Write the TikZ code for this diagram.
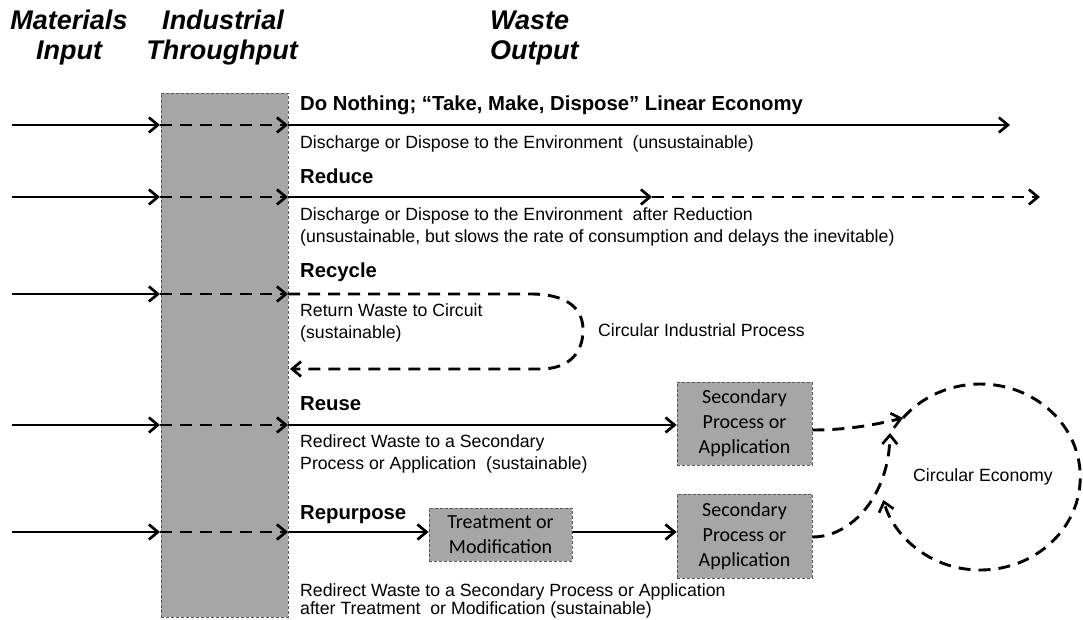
\documentclass[tikz,border=0pt]{standalone}
\usepackage{fontspec}
\setmainfont{Liberation Sans}
\newfontfamily\boxfont{Carlito}
\usetikzlibrary{arrows.meta}
\definecolor{boxgray}{HTML}{A6A6A6}
\definecolor{edgegray}{HTML}{595959}
\begin{document}
\begin{tikzpicture}[x=1pt,y=1pt,
  flow/.style={line width=2.9pt,-{Straight Barb[length=9pt,width=15pt,line width=2.7pt]}},
  dsh/.style={dash pattern=on 12pt off 8pt},
  hdr/.style={font=\fontsize{27}{30}\selectfont\bfseries\itshape, inner sep=0pt},
  ttl/.style={font=\fontsize{20.3}{24}\selectfont\bfseries, anchor=base west, inner sep=0pt},
  sub/.style={font=\fontsize{17.7}{22}\selectfont, anchor=base west, inner sep=0pt},
  gbox/.style={fill=boxgray, draw=edgegray, line width=0.8pt, dash pattern=on 3pt off 2pt,
    font=\boxfont\fontsize{20}{25}\selectfont, align=center, inner sep=0pt},
  thrubox/.style={fill=boxgray, draw=edgegray, line width=0.8pt, dash pattern=on 3pt off 2pt,
    inner sep=0pt, minimum width=127pt, minimum height=524pt}
]
\useasboundingbox (0,0) rectangle (1083,620);

% headers
\node[hdr, anchor=base] (h1a) at (69,590) {Materials};
\node[hdr, anchor=base] (h1b) at (69,560) {Input};
\node[hdr, anchor=base] (h2a) at (223,590) {Industrial};
\node[hdr, anchor=base] (h2b) at (222,560) {Throughput};
\node[hdr, anchor=base west] (h3a) at (490,590) {Waste};
\node[hdr, anchor=base west] (h3b) at (490,560) {Output};

% throughput column
\node[thrubox] (thru) at (224.5,265) {};

% row coordinates
\foreach \i/\Y in {1/495,2/423,3/326,4/195,5/88}{
  \coordinate (a\i) at (12,\Y);
  \coordinate (b\i) at (160,\Y);
  \coordinate (c\i) at (288,\Y);
}
\foreach \i in {1,...,5}{
  \draw[flow] (a\i) -- (b\i);
  \draw[flow,dsh] (b\i) -- (c\i);
}

% Row 1
\node[ttl] (t1) at (300,509) {Do Nothing; “Take, Make, Dispose” Linear Economy};
\node[sub] (s1) at (300,471) {Discharge or Dispose to the Environment\ \ (unsustainable)};
\coordinate (e1) at (1010,495);
\draw[flow] (c1) -- (e1);

% Row 2
\node[ttl] (t2) at (300,436) {Reduce};
\node[sub] (s2a) at (300,399) {Discharge or Dispose to the Environment\ \ after Reduction};
\node[sub] (s2b) at (300,377) {(unsustainable, but slows the rate of consumption and delays the inevitable)};
\coordinate (m2) at (652,423);
\coordinate (e2) at (1040,423);
\draw[flow] (c2) -- (m2);
\draw[flow,dsh] (m2) -- (e2);

% Row 3
\node[ttl] (t3) at (300,342) {Recycle};
\node[sub] (s3a) at (300,303) {Return Waste to Circuit};
\node[sub] (s3b) at (300,281) {(sustainable)};
\node[sub] (cip) at (598,283) {Circular Industrial Process};
\coordinate (r3) at (290,251);
\draw[flow,dsh] (c3) -- (530,326) .. controls (572,326) and (583,308) .. (583,290)
  .. controls (583,268) and (570,251) .. (540,251) -- (r3);

% Row 4
\node[ttl] (t4) at (300,209) {Reuse};
\node[sub] (s4a) at (300,172) {Redirect Waste to a Secondary};
\node[sub] (s4b) at (300,150) {Process or Application\ \ (sustainable)};
\node[gbox, minimum width=135pt, minimum height=83pt] (sec1) at (744.5,196.5) {Secondary\\Process or\\Application};
\draw[flow] (c4) -- (sec1.west |- c4);

% Row 5
\node[ttl] (t5) at (300,100) {Repurpose};
\node[sub] (s5a) at (300,23) {Redirect Waste to a Secondary Process or Application};
\node[sub] (s5b) at (300,5) {after Treatment\ \ or Modification (sustainable)};
\node[gbox, minimum width=143pt, minimum height=53pt] (treat) at (500.5,85) {Treatment or\\Modification};
\node[gbox, minimum width=135pt, minimum height=84pt] (sec2) at (744.5,84) {Secondary\\Process or\\Application};
\draw[flow] (c5) -- (treat.west |- c5);
\draw[flow] (treat.east |- c5) -- (sec2.west |- c5);

% Circular economy
\node[font=\fontsize{17.7}{22}\selectfont, inner sep=0pt] (ce) at (983,143) {Circular Economy};
\coordinate (cs) at (903,202);
\coordinate (ct) at (890,187);
\draw[flow,dsh] (cs) arc[start angle=140.6, end angle=-165.7, x radius=100, y radius=93];
\draw[flow,dsh] (sec1.east |- 0,190) .. controls (850,190) and (878,196) .. (cs);
\draw[flow,dsh] (sec2.east |- 0,83) .. controls (852,83) and (889,125) .. (ct);
\end{tikzpicture}
\end{document}
